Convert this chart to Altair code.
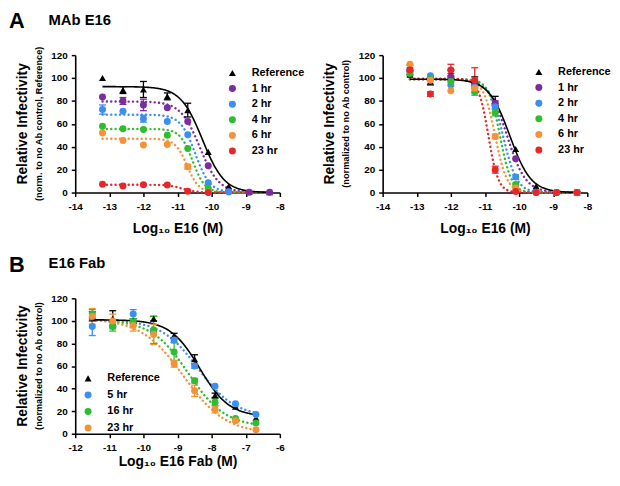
import altair as alt
import pandas as pd

FONT = "Liberation Sans"

# ---------------- Panel A : MAb E16 ----------------
a_conc = [-13.2, -12.6, -12.0, -11.3, -10.7, -10.1, -9.5, -8.9, -8.3]
a_series = ["Reference", "1 hr", "2 hr", "4 hr", "6 hr", "23 hr"]
a_colors = ["#000000", "#7B2C9E", "#3B8FEF", "#2EBD2E", "#F4923A", "#E8252B"]
a_shapes = ["triangle-up", "circle", "circle", "circle", "circle", "circle"]

# left: normalized to no-Ab control of Reference
al_ref = [100, 89.5, 90, 84, 72, 35.5, 5.5, 0.5, 0.3]
al_ref_err = [0, 3, 7, 3, 6, 0, 0, 0, 0]
al_1hr = [83.5, 80, 76.5, 74, 62, 23.5, 1, 0.3, 0.3]
al_1hr_err = [0, 3, 5, 0, 0, 0, 0, 0, 0]
al_2hr = [72.5, 71, 64.5, 62, 50.5, 8.5, 0.5, None, None]
al_2hr_err = [4, 0, 3, 0, 0, 0, 0, 0, 0]
al_4hr = [58, 55.8, 55, 50, 38.5, 3.8, None, None, None]
al_4hr_err = [0, 0, 0, 0, 0, 0, 0, 0, 0]
al_6hr = [52, 45.5, 41.5, 42, 22.5, 0.5, None, None, None]
al_6hr_err = [0, 0, 0, 0, 2, 0, 0, 0, 0]
al_23hr = [7.2, 5.8, 6.8, 6.5, 1.2, 0, None, None, None]
al_23hr_err = [0, 0, 0, 0, 0, 0, 0, 0, 0]

# right: normalized to no-Ab control
ar_ref = [103, 97, 103, 98, 80, 38, 5.5, 0.5, 0]
ar_ref_err = [0, 3, 4, 3, 4, 0, 0, 0, 0]
ar_1hr = [107, 100, 101, 94, 78, 29.5, 0.5, 0, 0]
ar_1hr_err = [0, 0, 3, 0, 2, 0, 0, 0, 0]
ar_2hr = [106, 102, 94, 92, 75, 13.5, 0, 0, 0]
ar_2hr_err = [3, 0, 0, 0, 2, 2, 0, 0, 0]
ar_4hr = [104, 99, 97, 88, 70, 7, 0, 0, 0]
ar_4hr_err = [2, 0, 0, 3, 3, 0, 0, 0, 0]
ar_6hr = [112, 98, 89, 91, 49, 4, 0, 0, 0]
ar_6hr_err = [0, 0, 0, 0, 2, 0, 0, 0, 0]
ar_23hr = [107, 86, 107, 98, 20, 1, 0, 0, 0]
ar_23hr_err = [4, 2, 5, 11, 3, 0, 0, 0, 0]

# fitted 4-parameter logistic curves
al_top = [92.5, 79.5, 68, 55.5, 47, 6.8]
al_bottom = [0, 0, 0, 0, 0, 0]
al_logic50 = [-10.27, -10.35, -10.48, -10.56, -10.72, -10.85]
al_hill = [1.35, 1.55, 2.0, 2.4, 2.5, 2.2]

ar_top = [99, 99, 99, 99, 99, 99.5]
ar_bottom = [0, 0, 0, 0, 0, 0]
ar_logic50 = [-10.27, -10.35, -10.47, -10.56, -10.70, -10.90]
ar_hill = [1.4, 1.6, 2.15, 2.6, 2.5, 3.0]

# ---------------- Panel B : E16 Fab ----------------
b_conc = [-11.5, -10.9, -10.3, -9.7, -9.1, -8.5, -7.9, -7.3, -6.7]
b_series = ["Reference", "5 hr", "16 hr", "23 hr"]
b_colors = ["#000000", "#3B8FEF", "#2EBD2E", "#F4923A"]
b_shapes = ["triangle-up", "circle", "circle", "circle"]

b_ref = [104, 102, 100, 102, 87, 66, 34, 24, 14]
b_ref_err = [4, 7, 2, 2, 2, 4, 2, 0, 0]
b_5hr = [95, 96, 106, 91, 83, 60, 42, 26.5, 17]
b_5hr_err = [8, 3, 4, 2, 2, 2, 0, 0, 0]
b_16hr = [106, 95, 99, 92, 72.5, 47, 28, 13.5, 9.5]
b_16hr_err = [4, 4, 3, 12, 8, 2, 3, 0, 0]
b_23hr = [104, 100, 96, 88, 62, 38, 21.5, 11.5, 3.5]
b_23hr_err = [7, 6, 5, 9, 3, 5, 3, 1, 0]

b_top = [101, 101, 101, 102]
b_bottom = [15, 15, 6, 0]
b_logic50 = [-8.35, -8.4, -8.68, -8.82]
b_hill = [1.0, 0.8, 0.8, 0.7]

y_ticks = [0, 20, 40, 60, 80, 100, 120]


def points_frame(conc, series, values, errors):
    rows = []
    for name, vals, errs in zip(series, values, errors):
        for x, v, e in zip(conc, vals, errs):
            if v is None:
                continue
            rows.append({"x": x, "y": v, "err": e, "series": name})
    return pd.DataFrame(rows)


def fit_frame(series, top, bottom, logic50, hill, conc):
    n = len(series)
    return pd.DataFrame({
        "series": series, "top": top, "bottom": bottom,
        "logic50": logic50, "hill": hill,
        "xmin": [min(conc)] * n, "xmax": [max(conc)] * n,
    })


def text_layer(s, x, y, size, angle=0, align="left", baseline="alphabetic"):
    return alt.Chart(pd.DataFrame({"t": [s]})).mark_text(
        font=FONT, fontWeight="bold", fontSize=size, angle=angle,
        align=align, baseline=baseline, color="black",
    ).encode(text="t:N", x=alt.value(x), y=alt.value(y))


def panel(pts, fits, series, colors, shapes, xdomain, xticks, xtitle, title_pad,
          height, leg_x, leg_y, leg_rowpad, y_sub, letter, heading):
    width = 207
    xsc = alt.Scale(domain=xdomain, nice=False, zero=False)
    ysc = alt.Scale(domain=[0, 120], nice=False)
    xax = alt.Axis(values=xticks, labelExpr="'' + datum.value", title=xtitle,
                   titlePadding=title_pad, labelPadding=5, labelFlush=False,
                   labelOverlap=False)
    yax = alt.Axis(values=y_ticks, title=None, labelPadding=4, labelOverlap=False)

    def X(f):
        return alt.X(f, type="quantitative", scale=xsc, axis=xax)

    def Y(f):
        return alt.Y(f, type="quantitative", scale=ysc, axis=yax)

    # stroke scale lists the series in reverse so that it is not merged
    # with the (visible) colour/shape legend
    stroke = alt.Stroke("series:N",
                        scale=alt.Scale(domain=series[::-1], range=colors[::-1]),
                        legend=None)
    leg = alt.Legend(orient="none", legendX=leg_x, legendY=leg_y, title=None,
                     labelFont=FONT, labelFontWeight="bold", labelFontSize=11,
                     labelColor="black", symbolSize=50, symbolStrokeWidth=0,
                     labelOffset=14, rowPadding=leg_rowpad, padding=0)
    color = alt.Color("series:N", scale=alt.Scale(domain=series, range=colors), legend=leg)
    shape = alt.Shape("series:N", scale=alt.Scale(domain=series, range=shapes), legend=leg)

    curves = (
        alt.Chart(fits)
        .transform_calculate(i="sequence(0, 241)")
        .transform_flatten(["i"])
        .transform_calculate(cx="datum.xmin + datum.i * (datum.xmax - datum.xmin) / 240")
        .transform_calculate(
            cy="datum.bottom + (datum.top - datum.bottom) / (1 + pow(10, (datum.cx - datum.logic50) * datum.hill))"
        )
    )
    dotted = curves.transform_filter("datum.series != 'Reference'").mark_line(
        strokeWidth=2.4, strokeDash=[0.1, 4.3], strokeCap="round"
    ).encode(x=X("cx"), y=Y("cy"), stroke=stroke, order="cx:Q")
    solid = curves.transform_filter("datum.series == 'Reference'").mark_line(
        strokeWidth=1.6
    ).encode(x=X("cx"), y=Y("cy"), stroke=stroke, order="cx:Q")

    errd = pts[pts["err"] > 0]
    err_base = alt.Chart(errd).transform_calculate(
        lo="datum.y - datum.err", hi="datum.y + datum.err"
    )
    bars = err_base.mark_rule(strokeWidth=1.3).encode(
        x=X("x"), y=Y("lo"), y2=alt.Y2("hi:Q"), stroke=stroke
    )
    caps = err_base.transform_fold(["lo", "hi"], as_=["end", "v"]).mark_point(
        shape="M-1,0L1,0", size=49, filled=False, strokeWidth=1.3, opacity=1
    ).encode(x=X("x"), y=Y("v"), stroke=stroke)

    dots = alt.Chart(pts).mark_point(filled=True, size=50, opacity=1).encode(
        x=X("x"), y=Y("y"), color=color, shape=shape
    )

    layers = [dotted, solid, bars, caps, dots,
              text_layer("Relative Infectivity", -53, height / 2, 14, angle=270,
                         align="center", baseline="middle"),
              text_layer(y_sub, -37, height / 2, 9.3, angle=270,
                         align="center", baseline="middle")]
    if letter:
        layers.append(text_layer(letter, -67, -44, 22, baseline="top"))
    if heading:
        layers.append(text_layer(heading, -27, -30.5, 15))
    return alt.layer(*layers).properties(width=width, height=height)


al_pts = points_frame(a_conc, a_series,
                      [al_ref, al_1hr, al_2hr, al_4hr, al_6hr, al_23hr],
                      [al_ref_err, al_1hr_err, al_2hr_err, al_4hr_err, al_6hr_err, al_23hr_err])
ar_pts = points_frame(a_conc, a_series,
                      [ar_ref, ar_1hr, ar_2hr, ar_4hr, ar_6hr, ar_23hr],
                      [ar_ref_err, ar_1hr_err, ar_2hr_err, ar_4hr_err, ar_6hr_err, ar_23hr_err])
b_pts = points_frame(b_conc, b_series,
                     [b_ref, b_5hr, b_16hr, b_23hr],
                     [b_ref_err, b_5hr_err, b_16hr_err, b_23hr_err])

al_fit = fit_frame(a_series, al_top, al_bottom, al_logic50, al_hill, a_conc)
ar_fit = fit_frame(a_series, ar_top, ar_bottom, ar_logic50, ar_hill, a_conc)
b_fit = fit_frame(b_series, b_top, b_bottom, b_logic50, b_hill, b_conc)

a_left = panel(al_pts, al_fit, a_series, a_colors, a_shapes, [-14, -8],
               list(range(-14, -7)), "Log\u2081\u2080 E16 (M)", 10, 139,
               153.5, 12.5, 3.8, "(norm. to no Ab control, Reference)", "A", "MAb E16")
a_right = panel(ar_pts, ar_fit, a_series, a_colors, a_shapes, [-14, -8],
                list(range(-14, -7)), "Log\u2081\u2080 E16 (M)", 10, 139,
                152.5, 11.5, 3.8, "(normalized to no Ab control)", None, None)
b_panel = panel(b_pts, b_fit, b_series, b_colors, b_shapes, [-12, -6],
                list(range(-12, -5)), "Log\u2081\u2080 E16 Fab (M)", 2, 137,
                7.5, 75.5, 4.7, "(normalized to no Ab control)", "B", "E16 Fab")

chart = (
    alt.concat(a_left, a_right, b_panel, columns=2,
               spacing={"row": 107, "column": 104}, bounds="flush",
               padding={"left": 1, "top": 0, "right": 0, "bottom": 0})
    .resolve_scale(color="independent", shape="independent", stroke="independent",
                   x="independent", y="independent")
    .resolve_legend(color="independent", shape="independent", stroke="independent")
    .configure_view(stroke=None)
    .configure_axis(domainColor="black", domainWidth=1.6, tickColor="black",
                    tickWidth=1.5, tickSize=4, labelFont=FONT, labelFontSize=10,
                    labelFontWeight="bold", labelColor="black", titleFont=FONT,
                    titleFontSize=14, titleFontWeight="bold", titleColor="black",
                    grid=False)
    .properties(background="white")
)

chart.save("out.html", embed_options={"renderer": "svg", "actions": False})
